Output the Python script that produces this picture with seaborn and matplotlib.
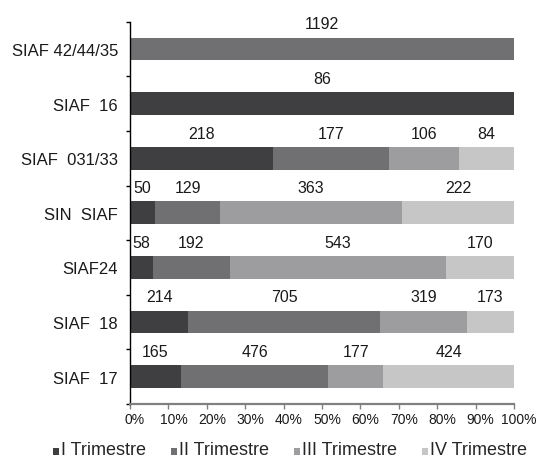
import numpy as np
import pandas as pd
import seaborn as sns
import matplotlib
matplotlib.use("Agg")
import matplotlib.pyplot as plt
from matplotlib.ticker import PercentFormatter
from matplotlib.lines import Line2D
from matplotlib.path import Path
from matplotlib.transforms import ScaledTranslation

categorias = ["SIAF 42/44/35", "SIAF  16", "SIAF  031/33", "SIN  SIAF",
              "SIAF24", "SIAF  18", "SIAF  17"]
trim_1 = [0, 86, 218, 50, 58, 214, 165]
trim_2 = [1192, 0, 177, 129, 192, 705, 476]
trim_3 = [0, 0, 106, 363, 543, 319, 177]
trim_4 = [0, 0, 84, 222, 170, 173, 424]
series = ["I Trimestre", "II Trimestre", "III Trimestre", "IV Trimestre"]
colores = ["#3f3f41", "#707072", "#9d9d9f", "#c6c6c7"]

sns.set_style("white")
plt.rcParams["font.family"] = ["Liberation Sans", "DejaVu Sans"]

df = pd.DataFrame({"cat": categorias, series[0]: trim_1, series[1]: trim_2,
                   series[2]: trim_3, series[3]: trim_4})
vals = df[series].to_numpy(dtype=float)
pct = vals / vals.sum(axis=1, keepdims=True) * 100
cum = np.cumsum(pct, axis=1)

fig, ax = plt.subplots(figsize=(5.51, 4.6), dpi=100)
fig.subplots_adjust(left=0.236, right=0.933, top=0.9507, bottom=0.1196)

# stacked: draw the cumulative totals from longest to shortest
for j in reversed(range(4)):
    sns.barplot(x=cum[:, j], y=df["cat"], color=colores[j], orient="h",
                width=0.415, saturation=1, linewidth=0, ax=ax)

# value labels above each segment
for i in range(len(categorias)):
    left = 0
    for j in range(4):
        v = vals[i, j]
        if v > 0:
            ax.text(left + pct[i, j] / 2, i - 0.46, f"{int(v)}", ha="center",
                    va="center", fontsize=11.5, color="#1a1a1a", clip_on=False)
        left += pct[i, j]

ax.set_xlim(0, 100)
ax.set_xticks(np.arange(0, 101, 10))
ax.xaxis.set_major_formatter(PercentFormatter(decimals=0))
ax.set_xlabel("")
ax.set_ylabel("")
ax.tick_params(axis="x", length=3.6, width=1, color="#808080", labelsize=10,
               labelcolor="#1a1a1a", pad=2, bottom=True)
ax.tick_params(axis="y", which="major", length=0, labelsize=12,
               labelcolor="#1a1a1a", pad=8.6, left=False)
ax.set_yticks(np.arange(-0.5, len(categorias), 1), minor=True)
ax.tick_params(axis="y", which="minor", length=3, width=1, color="black",
               left=True)
ax.set_ylim(len(categorias) - 0.5, -0.5)

off = ScaledTranslation(0.05, 0, fig.dpi_scale_trans)
for t in ax.xaxis.get_major_ticks():
    t.label1.set_transform(t.label1.get_transform() + off)

sns.despine(ax=ax)
ax.spines["left"].set_color("black")
ax.spines["left"].set_linewidth(1)
ax.spines["bottom"].set_color("#808080")
ax.spines["bottom"].set_linewidth(1.6)

# small squares sitting on the text baseline
cuadro = Path([(-0.5, -1), (0.5, -1), (0.5, 0), (-0.5, 0), (-0.5, -1)],
              [Path.MOVETO, Path.LINETO, Path.LINETO, Path.LINETO,
               Path.CLOSEPOLY])
handles = [Line2D([], [], marker=cuadro, linestyle="none", markersize=9.4,
                  markeredgewidth=0, color=c) for c in colores]
fig.legend(handles, series, loc="center", bbox_to_anchor=(0.526, 0.02),
           ncol=4, frameon=False, fontsize=13, handletextpad=0.1,
           columnspacing=1.33, handlelength=0.4)

fig.savefig("out.png", dpi=100)
